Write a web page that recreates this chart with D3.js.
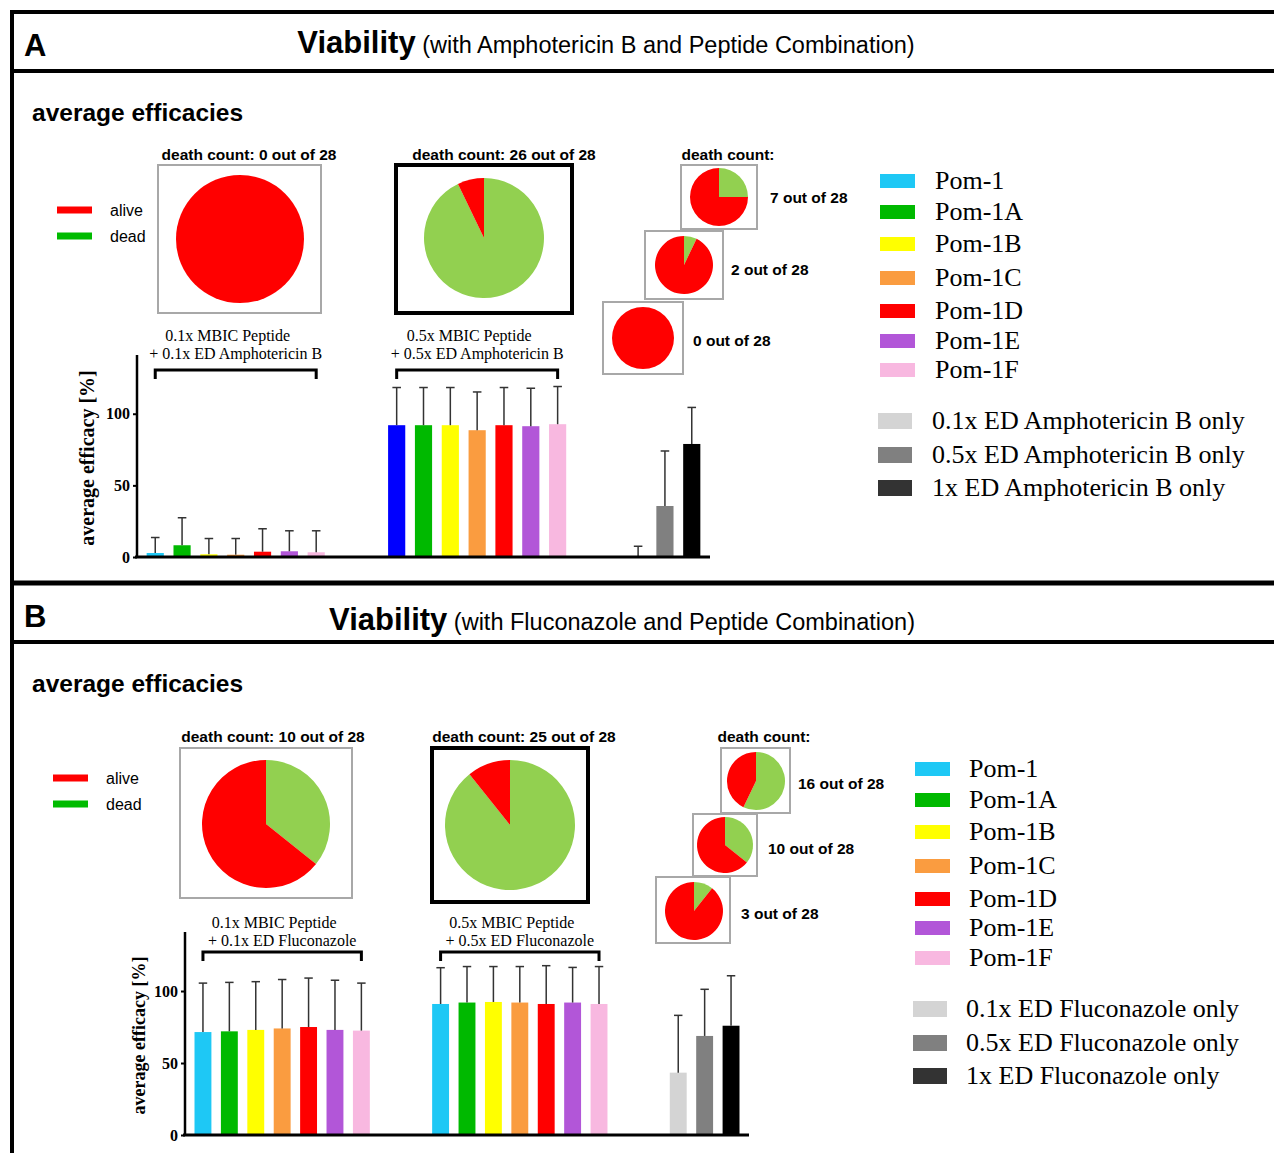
<!DOCTYPE html>
<html>
<head>
<meta charset="utf-8">
<script src="https://cdn.jsdelivr.net/npm/d3@7"></script>
<style>
  body { margin: 0; background: #fff; }
  svg { display: block; }
  .sans { font-family: "Liberation Sans", Arial, sans-serif; }
  .serif { font-family: "Liberation Serif", "Times New Roman", serif; }
</style>
</head>
<body>
<svg id="fig" width="1274" height="1153"></svg>
<script>
// ---- data ----
const peptides = ["Pom-1", "Pom-1A", "Pom-1B", "Pom-1C", "Pom-1D", "Pom-1E", "Pom-1F"];
const ampOnlyLabels = ["0.1x ED Amphotericin B only", "0.5x ED Amphotericin B only", "1x ED Amphotericin B only"];
const fluOnlyLabels = ["0.1x ED Fluconazole only", "0.5x ED Fluconazole only", "1x ED Fluconazole only"];
const ampGroupLabels = [["0.1x MBIC Peptide", "+ 0.1x ED Amphotericin B"], ["0.5x MBIC Peptide", "+ 0.5x ED Amphotericin B"]];
const fluGroupLabels = [["0.1x MBIC Peptide", "+ 0.1x ED Fluconazole"], ["0.5x MBIC Peptide", "+ 0.5x ED Fluconazole"]];

// mean efficacy [%] and upper SD
const ampLowMean  = [2.8, 8.2, 1.9, 1.6, 3.7, 4.0, 3.3];
const ampLowSd    = [10.8, 19.2, 11.0, 11.3, 16.0, 14.3, 15.0];
const ampHighMean = [92, 92, 92, 88.5, 92, 91.3, 92.7];
const ampHighSd   = [26.3, 26.3, 26.3, 26.7, 26.3, 26.5, 26.3];
const ampOnlyMean = [0.3, 35.6, 78.9];
const ampOnlySd   = [7.2, 38.4, 25.5];

const fluLowMean  = [71.5, 72, 73, 74, 75, 73, 72.5];
const fluLowSd    = [34, 34, 33.5, 34, 34, 34.5, 33];
const fluHighMean = [91, 92, 92.4, 92, 91, 92, 91];
const fluHighSd   = [25.2, 25, 24.6, 25, 26.6, 24.4, 26];
const fluOnlyMean = [43.3, 68.8, 75.9];
const fluOnlySd   = [39.8, 32.4, 34.7];

const totalCount = 28;
const ampDeaths = [0, 26];
const ampDrugDeaths = [7, 2, 0];
const fluDeaths = [10, 25];
const fluDrugDeaths = [16, 10, 3];
const yTicks = [0, 50, 100];

// colours
const pepColors = ["#1ec8f5", "#00b900", "#ffff00", "#fa9c40", "#ff0000", "#b256d8", "#f8b8e0"];
const ampHighColors = ["#0000ff", "#00b900", "#ffff00", "#fa9c40", "#ff0000", "#b256d8", "#f8b8e0"];
const drugColors = ["#d4d4d4", "#808080", "#000000"];
const drugSwatch = ["#d4d4d4", "#808080", "#333333"];
const pieAlive = "#ff0000", pieDead = "#92d050";

const svg = d3.select("#fig");

// ---- frame ----
const frameLines = [[12, 12, 1274, 12, 4], [12, 10, 12, 1153, 4], [12, 71, 1274, 71, 4],
                    [12, 583, 1274, 583, 5], [12, 642, 1274, 642, 4]];
svg.selectAll("line.frame").data(frameLines).join("line")
  .attr("class", "frame")
  .attr("x1", d => d[0]).attr("y1", d => d[1]).attr("x2", d => d[2]).attr("y2", d => d[3])
  .attr("stroke", "#000").attr("stroke-width", d => d[4]);

function drawPanel(p) {
  const g = svg.append("g");

  // header
  g.append("text").attr("class", "sans").attr("x", 24).attr("y", p.letterY)
    .attr("font-size", 31).attr("font-weight", "bold").text(p.letter);
  const t = g.append("text").attr("class", "sans").attr("x", p.titleX).attr("y", p.titleY)
    .attr("text-anchor", "middle");
  t.append("tspan").attr("font-size", 31).attr("font-weight", "bold").text("Viability");
  t.append("tspan").attr("font-size", 23.5).text(" " + p.subtitle);

  g.append("text").attr("class", "sans").attr("x", 32).attr("y", p.avgY)
    .attr("font-size", 24.5).attr("font-weight", "bold").text("average efficacies");

  // alive / dead key
  const key = [["alive", "#ff0000"], ["dead", "#00bb00"]];
  key.forEach((k, i) => {
    const y = p.key.y + i * 26;
    g.append("line").attr("x1", p.key.x).attr("x2", p.key.x + 35).attr("y1", y).attr("y2", y)
      .attr("stroke", k[1]).attr("stroke-width", 7);
    g.append("text").attr("class", "sans").attr("x", p.key.tx).attr("y", y + 6)
      .attr("font-size", 16).text(k[0]);
  });

  // pies
  const pie = d3.pie().sort(null).value(d => d);
  function drawPie(spec, deaths) {
    g.append("rect").attr("x", spec.box[0]).attr("y", spec.box[1])
      .attr("width", spec.box[2]).attr("height", spec.box[3])
      .attr("fill", "#fff").attr("stroke", spec.bold ? "#000" : "#a8a8a8")
      .attr("stroke-width", spec.bold ? 4 : 2);
    const arc = d3.arc().innerRadius(0).outerRadius(spec.r);
    g.append("g").attr("transform", `translate(${spec.cx},${spec.cy})`)
      .selectAll("path").data(pie([deaths, totalCount - deaths])).join("path")
      .attr("d", arc).attr("fill", (d, i) => i === 0 ? pieDead : pieAlive);
  }
  p.bigPies.forEach((s, i) => {
    drawPie(s, p.deaths[i]);
    g.append("text").attr("class", "sans").attr("x", s.lx).attr("y", s.ly)
      .attr("text-anchor", "middle").attr("font-size", 15.5).attr("font-weight", "bold")
      .text(`death count: ${p.deaths[i]} out of ${totalCount}`);
  });
  g.append("text").attr("class", "sans").attr("x", p.smallTitle[0]).attr("y", p.smallTitle[1])
    .attr("text-anchor", "middle").attr("font-size", 15.5).attr("font-weight", "bold").text("death count:");
  p.smallPies.forEach((s, i) => {
    drawPie(s, p.drugDeaths[i]);
    g.append("text").attr("class", "sans").attr("x", s.lx).attr("y", s.ly)
      .attr("font-size", 15.5).attr("font-weight", "bold")
      .text(`${p.drugDeaths[i]} out of ${totalCount}`);
  });

  // legend
  peptides.forEach((name, i) => {
    const y = p.legend.rows[i];
    g.append("rect").attr("x", p.legend.x).attr("y", y - 7).attr("width", 35).attr("height", 14)
      .attr("fill", pepColors[i]);
    g.append("text").attr("class", "serif").attr("x", p.legend.tx).attr("y", y + 8)
      .attr("font-size", 26).text(name);
  });
  p.onlyLabels.forEach((name, i) => {
    const y = p.legend.drugRows[i];
    g.append("rect").attr("x", p.legend.x - 2).attr("y", y - 8).attr("width", 34).attr("height", 16)
      .attr("fill", drugSwatch[i]);
    g.append("text").attr("class", "serif").attr("x", p.legend.tx - 3).attr("y", y + 8)
      .attr("font-size", 26).text(name);
  });

  // bar chart
  const groups = p.groups; // [{mean, sd, colors}]
  const slots = [];
  groups.forEach((gr, gi) => gr.mean.forEach((m, i) => slots.push({
    key: gi + "-" + i, mean: m, sd: gr.sd[i], color: gr.colors[i], gi, i })));
  const slotKeys = d3.range(21).map(k => {
    const gi = Math.floor(k / 9), i = k % 9;
    return gi + "-" + i;
  });
  const x = d3.scaleBand().domain(slotKeys).range(p.xRange).paddingInner(0.36).paddingOuter(0.36);
  const y = d3.scaleLinear().domain([0, 141]).range(p.yRange);

  const chart = g.append("g");
  chart.selectAll("rect.bar").data(slots).join("rect")
    .attr("class", "bar")
    .attr("x", d => x(d.key)).attr("width", x.bandwidth())
    .attr("y", d => y(d.mean)).attr("height", d => y(0) - y(d.mean))
    .attr("fill", d => d.color);

  const cx = d => x(d.key) + x.bandwidth() / 2;
  chart.selectAll("line.err").data(slots).join("line")
    .attr("class", "err")
    .attr("x1", cx).attr("x2", cx).attr("y1", d => y(d.mean)).attr("y2", d => y(d.mean + d.sd))
    .attr("stroke", "#333").attr("stroke-width", 1.5);
  chart.selectAll("line.cap").data(slots).join("line")
    .attr("class", "cap")
    .attr("x1", d => cx(d) - x.bandwidth() / 4).attr("x2", d => cx(d) + x.bandwidth() / 4)
    .attr("y1", d => y(d.mean + d.sd)).attr("y2", d => y(d.mean + d.sd))
    .attr("stroke", "#333").attr("stroke-width", 1.5);

  // axes
  const yAxis = chart.append("g").attr("transform", `translate(${p.xRange[0]},0)`)
    .call(d3.axisLeft(y).tickValues(yTicks).tickSize(4).tickSizeOuter(0));
  yAxis.select(".domain").attr("stroke-width", 2.5).attr("d", `M0,${p.yRange[1]}V${p.yRange[0]}`);
  yAxis.selectAll(".tick line").attr("stroke-width", 2);
  yAxis.selectAll(".tick text").attr("class", "serif").attr("font-size", 16)
    .attr("font-weight", "bold").attr("fill", "#000");
  chart.append("line").attr("x1", p.xRange[0] - 2).attr("x2", p.xRange[1])
    .attr("y1", y(0)).attr("y2", y(0)).attr("stroke", "#000").attr("stroke-width", 3);

  chart.append("text").attr("class", "serif")
    .attr("transform", `translate(${p.yLabelX},${(p.yRange[0] + p.yRange[1]) / 2 + 2}) rotate(-90)`)
    .attr("text-anchor", "middle").attr("font-size", p.yLabelSize).attr("font-weight", "bold")
    .text("average efficacy [%]");

  // brackets with group captions
  p.groupLabels.forEach((lab, gi) => {
    const x1 = x(gi + "-0") + x.bandwidth() / 2;
    const x2 = x(gi + "-6") + x.bandwidth() / 2;
    const by = p.bracketY;
    chart.append("path").attr("d", `M${x1},${by + 9}V${by}H${x2}V${by + 9}`)
      .attr("fill", "none").attr("stroke", "#000").attr("stroke-width", 3);
    lab.forEach((s, li) => {
      chart.append("text").attr("class", "serif").attr("x", (x1 + x2) / 2 - (li === 0 ? 8 : 0))
        .attr("y", p.captionY + li * 18).attr("text-anchor", "middle").attr("font-size", 16).text(s);
    });
  });
}

drawPanel({
  letter: "A", letterY: 56, titleX: 606, titleY: 53,
  subtitle: "(with Amphotericin B and Peptide Combination)", avgY: 121,
  key: { x: 57, y: 210, tx: 110 },
  deaths: ampDeaths, drugDeaths: ampDrugDeaths,
  bigPies: [
    { box: [158, 165, 163, 148], cx: 240, cy: 239, r: 64, lx: 249, ly: 160 },
    { box: [396, 165, 176, 148], cx: 484, cy: 238, r: 60, lx: 504, ly: 160, bold: true }
  ],
  smallTitle: [728, 160],
  smallPies: [
    { box: [681, 165, 76, 64], cx: 719, cy: 197, r: 29, lx: 770, ly: 203 },
    { box: [645, 231, 78, 68], cx: 684, cy: 265, r: 29, lx: 731, ly: 275 },
    { box: [603, 302, 80, 72], cx: 643, cy: 338, r: 31, lx: 693, ly: 346 }
  ],
  legend: { x: 880, tx: 935, rows: [181, 212, 244, 278, 311, 341, 370], drugRows: [421, 455, 488] },
  onlyLabels: ampOnlyLabels,
  groups: [
    { mean: ampLowMean, sd: ampLowSd, colors: pepColors },
    { mean: ampHighMean, sd: ampHighSd, colors: ampHighColors },
    { mean: ampOnlyMean, sd: ampOnlySd, colors: drugColors }
  ],
  xRange: [137, 710], yRange: [557, 355], yLabelX: 94, yLabelSize: 20,
  groupLabels: ampGroupLabels, bracketY: 370, captionY: 341
});

drawPanel({
  letter: "B", letterY: 627, titleX: 622, titleY: 630,
  subtitle: "(with Fluconazole and Peptide Combination)", avgY: 692,
  key: { x: 53, y: 778, tx: 106 },
  deaths: fluDeaths, drugDeaths: fluDrugDeaths,
  bigPies: [
    { box: [180, 748, 172, 150], cx: 266, cy: 824, r: 64, lx: 273, ly: 742 },
    { box: [432, 748, 156, 154], cx: 510, cy: 825, r: 65, lx: 524, ly: 742, bold: true }
  ],
  smallTitle: [764, 742],
  smallPies: [
    { box: [721, 748, 69, 65], cx: 756, cy: 781, r: 29, lx: 798, ly: 789 },
    { box: [693, 814, 64, 62], cx: 725, cy: 845, r: 28, lx: 768, ly: 854 },
    { box: [656, 877, 74, 66], cx: 694, cy: 911, r: 29, lx: 741, ly: 919 }
  ],
  legend: { x: 915, tx: 969, rows: [769, 800, 832, 866, 899, 928, 958], drugRows: [1009, 1043, 1076] },
  onlyLabels: fluOnlyLabels,
  groups: [
    { mean: fluLowMean, sd: fluLowSd, colors: pepColors },
    { mean: fluHighMean, sd: fluHighSd, colors: pepColors },
    { mean: fluOnlyMean, sd: fluOnlySd, colors: drugColors }
  ],
  xRange: [185, 749], yRange: [1135, 932], yLabelX: 145, yLabelSize: 18,
  groupLabels: fluGroupLabels, bracketY: 952, captionY: 928
});
</script>
</body>
</html>
